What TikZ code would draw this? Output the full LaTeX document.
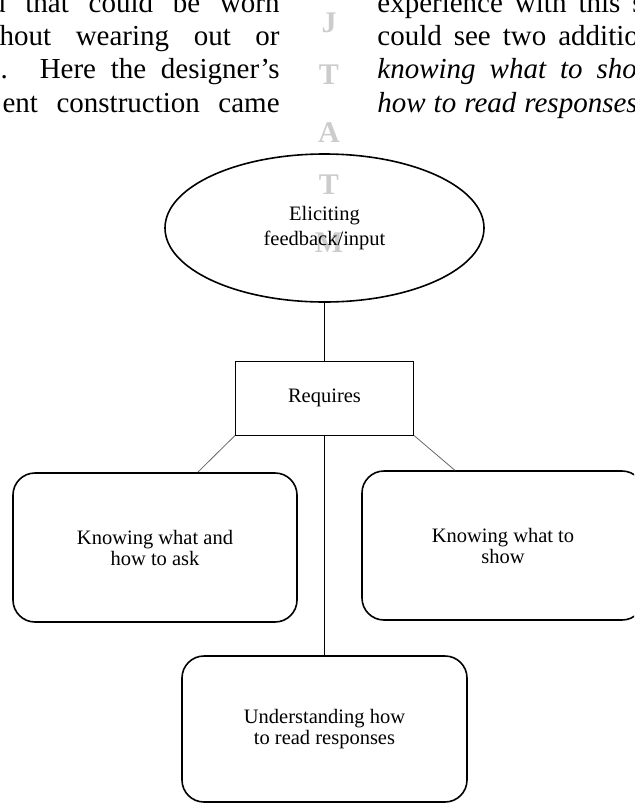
\documentclass[tikz,border=0pt]{standalone}
\usepackage{fontspec}
\setmainfont{Liberation Serif}
\usetikzlibrary{shapes.geometric,calc}
\begin{document}
\begin{tikzpicture}[x=0.5pt,y=-0.5pt,
  bodytext/.style={font=\fontsize{14.5}{16.5}\selectfont, inner sep=0pt},
  wmark/.style={font=\fontsize{15}{15}\selectfont\bfseries, text=black!20, inner sep=0pt, anchor=base},
  boxtext/.style={font=\fontsize{10.25}{10.5}\selectfont, align=center, inner sep=0pt},
  roundbox/.style={boxtext, draw, line width=0.8pt, rounded corners=11pt},
  link/.style={line width=0.5pt},
  slant/.style={line width=0.4pt, draw=black!60}]
\useasboundingbox (0,0) rectangle (634,804);
\clip (0,0) rectangle (634,804);
% page text around the figure
\foreach \ch/\yy in {J/32,T/84,A/142,T/194,M/252}
  \node[wmark] (wm\ch\yy) at (329,\yy) {\ch};
\node[bodytext, anchor=base east] (left1) at (280,12) {\makebox[144.25pt][s]{d that could be worn}};
\node[bodytext, anchor=base east] (left2) at (280,45) {\makebox[140pt][s]{hout wearing out or}};
\node[bodytext, anchor=base east] (left3) at (280,78) {\makebox[139.5pt][s]{. Here the designer’s}};
\node[bodytext, anchor=base east] (left4) at (280,112) {\makebox[138.5pt][s]{ent construction came}};
\node[bodytext, anchor=base west] (right1) at (377,12) {\spaceskip=6pt\relax experience with this s};
\node[bodytext, anchor=base west] (right2) at (377,45) {\spaceskip=6pt\relax could see two additio};
\node[bodytext, anchor=base west] (right3) at (377,78) {\itshape\spaceskip=7pt\relax knowing what to sho};
\node[bodytext, anchor=base west] (right4) at (377,112) {\itshape\spaceskip=4pt\relax how to read responses};
% diagram
\node[ellipse, draw, line width=0.8pt, boxtext, font=\fontsize{10.25}{12.5}\selectfont,
  minimum width=159.5pt, minimum height=74pt] (elicit) at (324.5,228) {Eliciting\\feedback/input};
\node[draw, line width=0.5pt, boxtext, minimum width=89pt, minimum height=37pt] (req) at (324.5,398) {Requires};
\node[roundbox, minimum width=142pt, minimum height=74.5pt] (ask) at (155,547.5) {Knowing what and\\how to ask};
\node[roundbox, minimum width=141pt, minimum height=74.5pt] (show) at (503,545.5) {Knowing what to\\show};
\node[roundbox, minimum width=142.5pt, minimum height=73pt] (read) at (324.5,729) {Understanding how\\to read responses};
\draw[link] (elicit.south) -- (req.north);
\draw[link] (req.south) -- (read.north);
\draw[slant] (req.south west) -- ($(ask.north west)!0.65!(ask.north east)$);
\draw[slant] (req.south east) -- ($(show.north west)!0.33!(show.north east)$);
\end{tikzpicture}
\end{document}
